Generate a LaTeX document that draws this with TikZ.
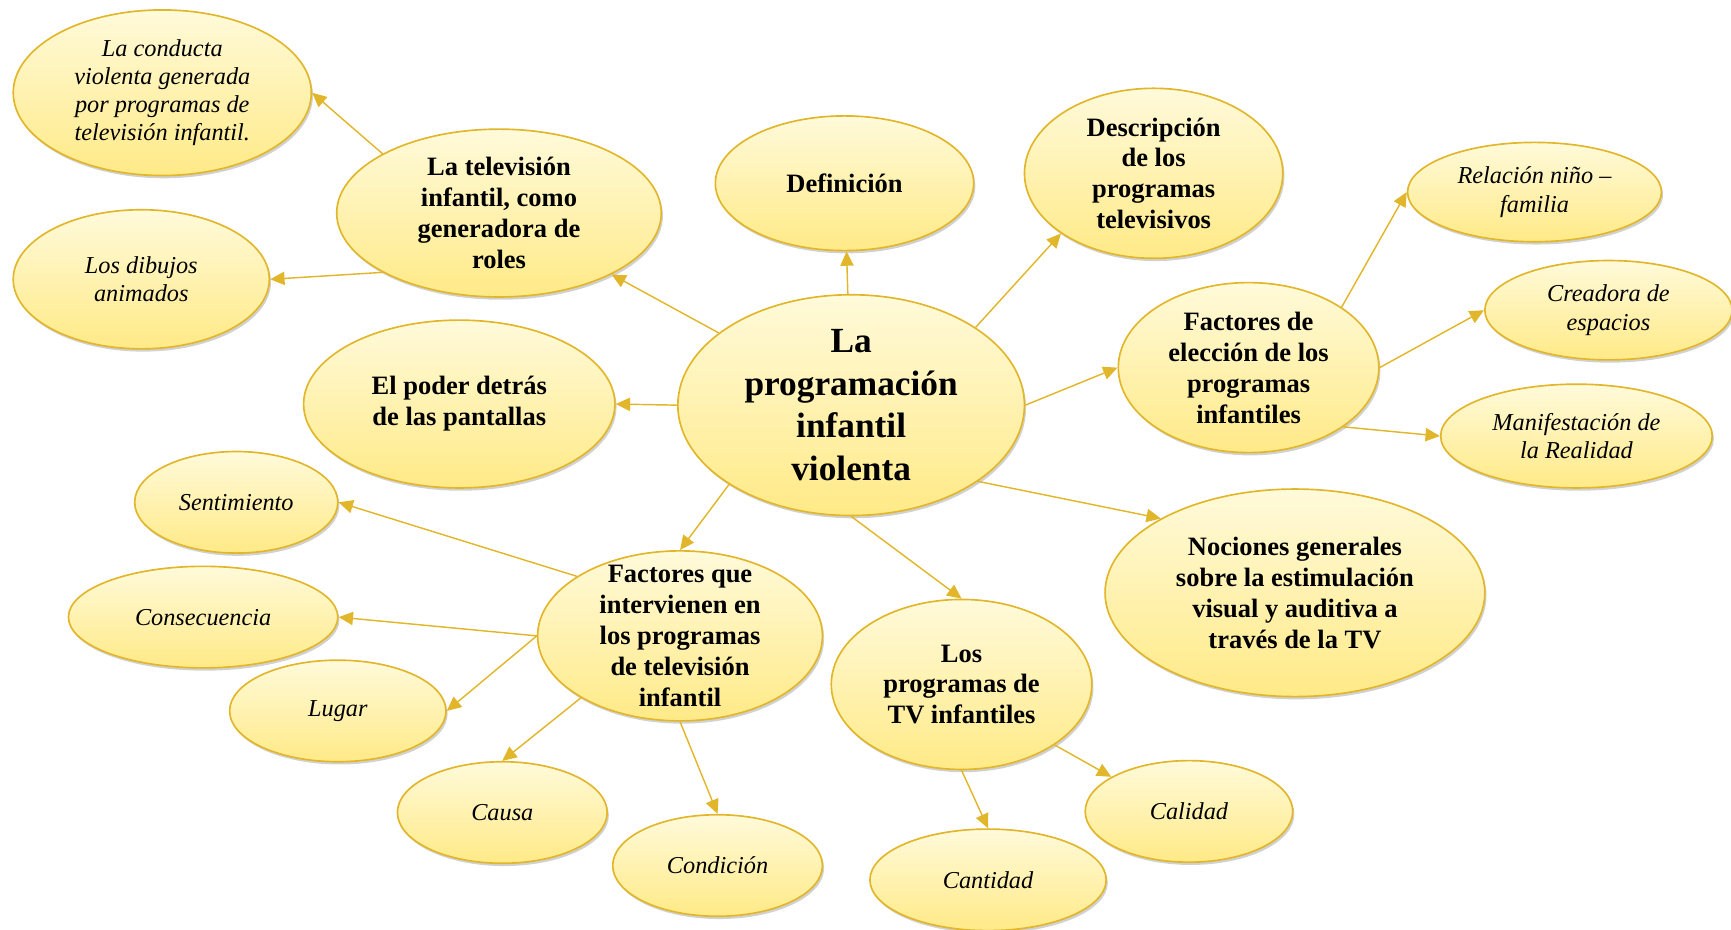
\documentclass[tikz,border=0pt]{standalone}
\usepackage{fontspec}
\setmainfont{Liberation Serif}
\usetikzlibrary{arrows.meta,shapes.geometric,shadows}

\definecolor{rim}{RGB}{226,182,42}
\definecolor{lemonTop}{RGB}{255,250,218}
\definecolor{lemonBot}{RGB}{255,234,135}

\begin{document}
\begin{tikzpicture}[x=1pt,y=-1pt,>={Triangle[length=13pt,width=12pt]}]
\tikzset{bubble/.style={ellipse,draw=rim,line width=1.5pt,top color=lemonTop,bottom color=lemonBot,
  drop shadow={shadow xshift=1.5pt,shadow yshift=-2.5pt,opacity=.3,fill=black!60},
  inner xsep=-8pt,inner ysep=-20pt,align=center},
head/.style={bubble,font=\fontsize{24}{28}\selectfont\bfseries},
leaf/.style={bubble,font=\fontsize{22}{25.5}\selectfont\itshape},
link/.style={->,draw=rim,fill=rim,line width=1.3pt}}
\useasboundingbox (0,0) rectangle (1568,842);

% centre
\node[head,font=\fontsize{32}{38.5}\selectfont\bfseries,minimum width=314pt,minimum height=200pt] (hub) at (771,367){La\\programación\\infantil\\violenta};

% first ring
\node[head,minimum width=294pt,minimum height=152pt] (roles) at (452,193){La televisión\\infantil, como\\generadora de\\roles};
\node[head,minimum width=234pt,minimum height=122pt] (defin) at (765,166){Definición};
\node[head,minimum width=234pt,minimum height=154pt] (descr) at (1045,157){Descripción\\de los\\programas\\televisivos};
\node[head,minimum width=236pt,minimum height=154pt] (eleccion) at (1131,333){Factores de\\elección de los\\programas\\infantiles};
\node[head,minimum width=282pt,minimum height=152pt] (poder) at (416,366){El poder detrás\\de las pantallas};
\node[head,minimum width=258pt,minimum height=154pt] (interv) at (616,576){Factores que\\intervienen en\\los programas\\de televisión\\infantil};
\node[head,minimum width=236pt,minimum height=154pt] (tvinf) at (871,620){Los\\programas de\\TV infantiles};
\node[head,minimum width=344pt,minimum height=188pt] (nociones) at (1173,537){Nociones generales\\sobre la estimulación\\visual y auditiva a\\través de la TV};

% leaves
\node[leaf,minimum width=270pt,minimum height=150pt] (conducta) at (147,84){La conducta\\violenta generada\\por programas de\\televisión infantil.};
\node[leaf,minimum width=232pt,minimum height=126pt] (dibujos) at (128,253){Los dibujos\\animados};
\node[leaf,minimum width=230pt,minimum height=90pt] (relacion) at (1390,174){Relación niño –\\familia};
\node[leaf,minimum width=224pt,minimum height=90pt] (creadora) at (1457,281){Creadora de\\espacios};
\node[leaf,minimum width=246pt,minimum height=94pt] (realidad) at (1428,395){Manifestación de\\la Realidad};
\node[leaf,minimum width=184pt,minimum height=92pt] (sentim) at (214,455){Sentimiento};
\node[leaf,minimum width=244pt,minimum height=92pt] (consec) at (184,559){Consecuencia};
\node[leaf,minimum width=196pt,minimum height=92pt] (lugar) at (306,644){Lugar};
\node[leaf,minimum width=190pt,minimum height=92pt] (causa) at (455,736){Causa};
\node[leaf,minimum width=190pt,minimum height=92pt] (condicion) at (650,784){Condición};
\node[leaf,minimum width=214pt,minimum height=92pt] (cantidad) at (895,797){Cantidad};
\node[leaf,minimum width=188pt,minimum height=92pt] (calidad) at (1077,735){Calidad};

% connectors
\draw[link] (hub) -- (roles);
\draw[link] (hub) -- (defin);
\draw[link] (hub.32) -- (descr.213);
\draw[link] (hub.east) -- (eleccion.west);
\draw[link] (hub.329) -- (nociones.151);
\draw[link] (hub.south) -- (tvinf.north);
\draw[link] (hub.213) -- (interv.north);
\draw[link] (hub.west) -- (poder.east);
\draw[link] (roles.153) -- (conducta.east);
\draw[link] (roles.207) -- (dibujos.east);
\draw[link] (eleccion.33) -- (relacion.west);
\draw[link] (eleccion.east) -- (creadora.west);
\draw[link] (eleccion.328) -- (realidad.west);
\draw[link] (interv.150) -- (sentim.east);
\draw[link] (interv.west) -- (consec.east);
\draw[link] (interv.west) -- (lugar.east);
\draw[link] (interv.212) -- (causa.north);
\draw[link] (interv.south) -- (condicion.north);
\draw[link] (tvinf.south) -- (cantidad.north);
\draw[link] (tvinf.327) -- (calidad.156);
\end{tikzpicture}
\end{document}
